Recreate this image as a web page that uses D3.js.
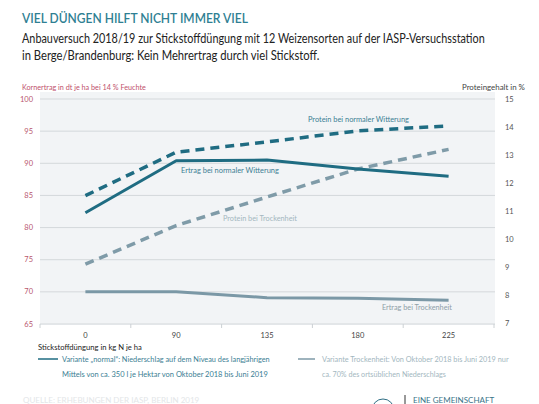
<!DOCTYPE html>
<html><head><meta charset="utf-8">
<script src="https://cdn.jsdelivr.net/npm/d3@7/dist/d3.min.js"></script>
<style>body{margin:0;background:#fff}svg{display:block}text{font-family:Lato,"Open Sans",sans-serif}</style>
</head><body>
<script>
const categories = ["0","90","135","180","225"];
const ertragNormal = [82.3, 90.4, 90.5, 89.1, 88.0];
const ertragTrocken = [70.0, 70.0, 69.1, 69.0, 68.7];
const proteinNormal = [11.55, 13.1, 13.47, 13.86, 14.04];
const proteinTrocken = [9.1, 10.48, 11.5, 12.5, 13.2];
const leftTicks = [65,70,75,80,85,90,95,100];
const rightTicks = [7,8,9,10,11,12,13,14,15];

const W=539,H=404;
const svg=d3.select("body").append("svg").attr("width",W).attr("height",H);
const teal="#1f6c82", grey="#7e9aa7";

const x=d3.scaleBand().domain(categories).range([40,494]).padding(0);
const yL=d3.scaleLinear().domain([65,100]).range([324,99]);
const yR=d3.scaleLinear().domain([7,15]).range([323,99]);

// condense a text horizontally to a target width with a scale transform
function fit(t,w){
  const x0=+t.attr("x"), y0=+t.attr("y");
  t.attr("x",0).attr("y",0);
  const L=t.node().getComputedTextLength();
  const k=Math.min(1.15,w/L);
  t.attr("transform",`translate(${x0},${y0}) scale(${k},1)`);
  return t;
}

// titles
fit(svg.append("text").attr("x",22).attr("y",23).attr("fill","#2f7f93").attr("font-size",14).attr("font-weight",600)
  .text("VIEL DÜNGEN HILFT NICHT IMMER VIEL"),226);
fit(svg.append("text").attr("x",22).attr("y",43).attr("fill","#222").attr("font-size",13)
  .text("Anbauversuch 2018/19 zur Stickstoffdüngung mit 12 Weizensorten auf der IASP-Versuchsstation"),463);
fit(svg.append("text").attr("x",22).attr("y",60).attr("fill","#222").attr("font-size",13)
  .text("in Berge/Brandenburg: Kein Mehrertrag durch viel Stickstoff."),298);

fit(svg.append("text").attr("x",22).attr("y",90).attr("fill","#c0506c").attr("font-size",7)
  .text("Kornertrag in dt je ha bei 14 % Feuchte"),124);
fit(svg.append("text").attr("x",462).attr("y",90).attr("fill","#444").attr("font-size",7)
  .text("Proteingehalt in %"),63);

// plot background
svg.append("rect").attr("x",40).attr("y",92).attr("width",455).attr("height",233).attr("fill","#f2f4f6");

// gridlines
svg.append("g").selectAll("line").data(leftTicks).join("line")
  .attr("x1",40).attr("x2",495).attr("y1",d=>yL(d)).attr("y2",d=>yL(d))
  .attr("stroke","#d4d8db").attr("stroke-width",1);

// left axis labels
svg.append("g").selectAll("text").data(leftTicks).join("text")
  .attr("x",33).attr("y",d=>yL(d)+2.5).attr("text-anchor","end").attr("font-size",7.5).attr("fill","#b8566e").text(d=>d);
// right axis labels
svg.append("g").selectAll("text").data(rightTicks).join("text")
  .attr("x",505).attr("y",d=>yR(d)+2.5).attr("font-size",7.5).attr("fill","#555").text(d=>d);

// x axis
const xa=svg.append("g").attr("transform","translate(0,324)").call(d3.axisBottom(x).tickSize(0).tickPadding(9));
xa.select(".domain").remove();
xa.selectAll("text").attr("font-size",7.5).attr("fill","#444").attr("font-family","Lato,sans-serif");
const bounds=[40].concat(categories.map(c=>x(c)+x.bandwidth()));
svg.append("g").selectAll("line").data(bounds).join("line")
  .attr("x1",d=>d).attr("x2",d=>d).attr("y1",324).attr("y2",328).attr("stroke","#ccd1d4");

fit(svg.append("text").attr("x",38).attr("y",350).attr("fill","#222").attr("font-size",7.5)
  .text("Stickstoffdüngung in kg N je ha"),104);

// lines
const xc=c=>x(c)+x.bandwidth()/2;
function draw(vals,scale,color,dash,w){
  svg.append("path").datum(vals).attr("fill","none").attr("stroke",color).attr("stroke-width",w)
    .attr("stroke-dasharray",dash).attr("stroke-linejoin","round")
    .attr("d",d3.line().x((d,i)=>xc(categories[i])).y(d=>scale(d)));
}
draw(ertragTrocken,yL,"#7b98a6",null,3);
draw(proteinTrocken,yR,"#7f9ba8","9,6",3.5);
draw(proteinNormal,yR,teal,"9,6",3.5);
draw(ertragNormal,yL,teal,null,3);

// line labels
function lab(txt,x0,y0,col,w){fit(svg.append("text").attr("x",x0).attr("y",y0).attr("font-size",7.5).attr("fill",col).text(txt),w);}
lab("Protein bei normaler Witterung",308,122,"#3b7e93",101);
lab("Ertrag bei normaler Witterung",181,173,"#3b7e93",98);
lab("Protein bei Trockenheit",223,221,"#a3b7c0",74);
lab("Ertrag bei Trockenheit",382,310,"#8ea0a8",70);

// legend
svg.append("line").attr("x1",38).attr("x2",58).attr("y1",359).attr("y2",359).attr("stroke",teal).attr("stroke-width",1.5);
fit(svg.append("text").attr("x",62).attr("y",362).attr("font-size",7.5).attr("fill","#3b7e93")
  .text("Variante „normal“: Niederschlag auf dem Niveau des langjährigen"),208);
fit(svg.append("text").attr("x",62).attr("y",377).attr("font-size",7.5).attr("fill","#3b7e93")
  .text("Mittels von ca. 350 l je Hektar von Oktober 2018 bis Juni 2019"),206);
svg.append("line").attr("x1",298).attr("x2",315).attr("y1",359).attr("y2",359).attr("stroke",grey).attr("stroke-width",1.5);
fit(svg.append("text").attr("x",322).attr("y",362).attr("font-size",7.5).attr("fill","#a3b7c0")
  .text("Variante Trockenheit: Von Oktober 2018 bis Juni 2019 nur"),187);
fit(svg.append("text").attr("x",322).attr("y",377).attr("font-size",7.5).attr("fill","#a3b7c0")
  .text("ca. 70% des ortsüblichen Niederschlags"),124);

// footer
fit(svg.append("text").attr("x",23).attr("y",403).attr("font-size",7).attr("fill","#e3e6e8")
  .text("QUELLE: ERHEBUNGEN DER IASP, BERLIN 2019"),210);
svg.append("circle").attr("cx",383).attr("cy",410).attr("r",11).attr("fill","none").attr("stroke","#2f6f85").attr("stroke-width",1);
svg.append("line").attr("x1",405).attr("x2",405).attr("y1",395).attr("y2",404).attr("stroke","#333").attr("stroke-width",1);
fit(svg.append("text").attr("x",413).attr("y",403).attr("font-size",7).attr("fill","#3a7488")
  .text("EINE GEMEINSCHAFT"),100);
</script>
</body></html>
